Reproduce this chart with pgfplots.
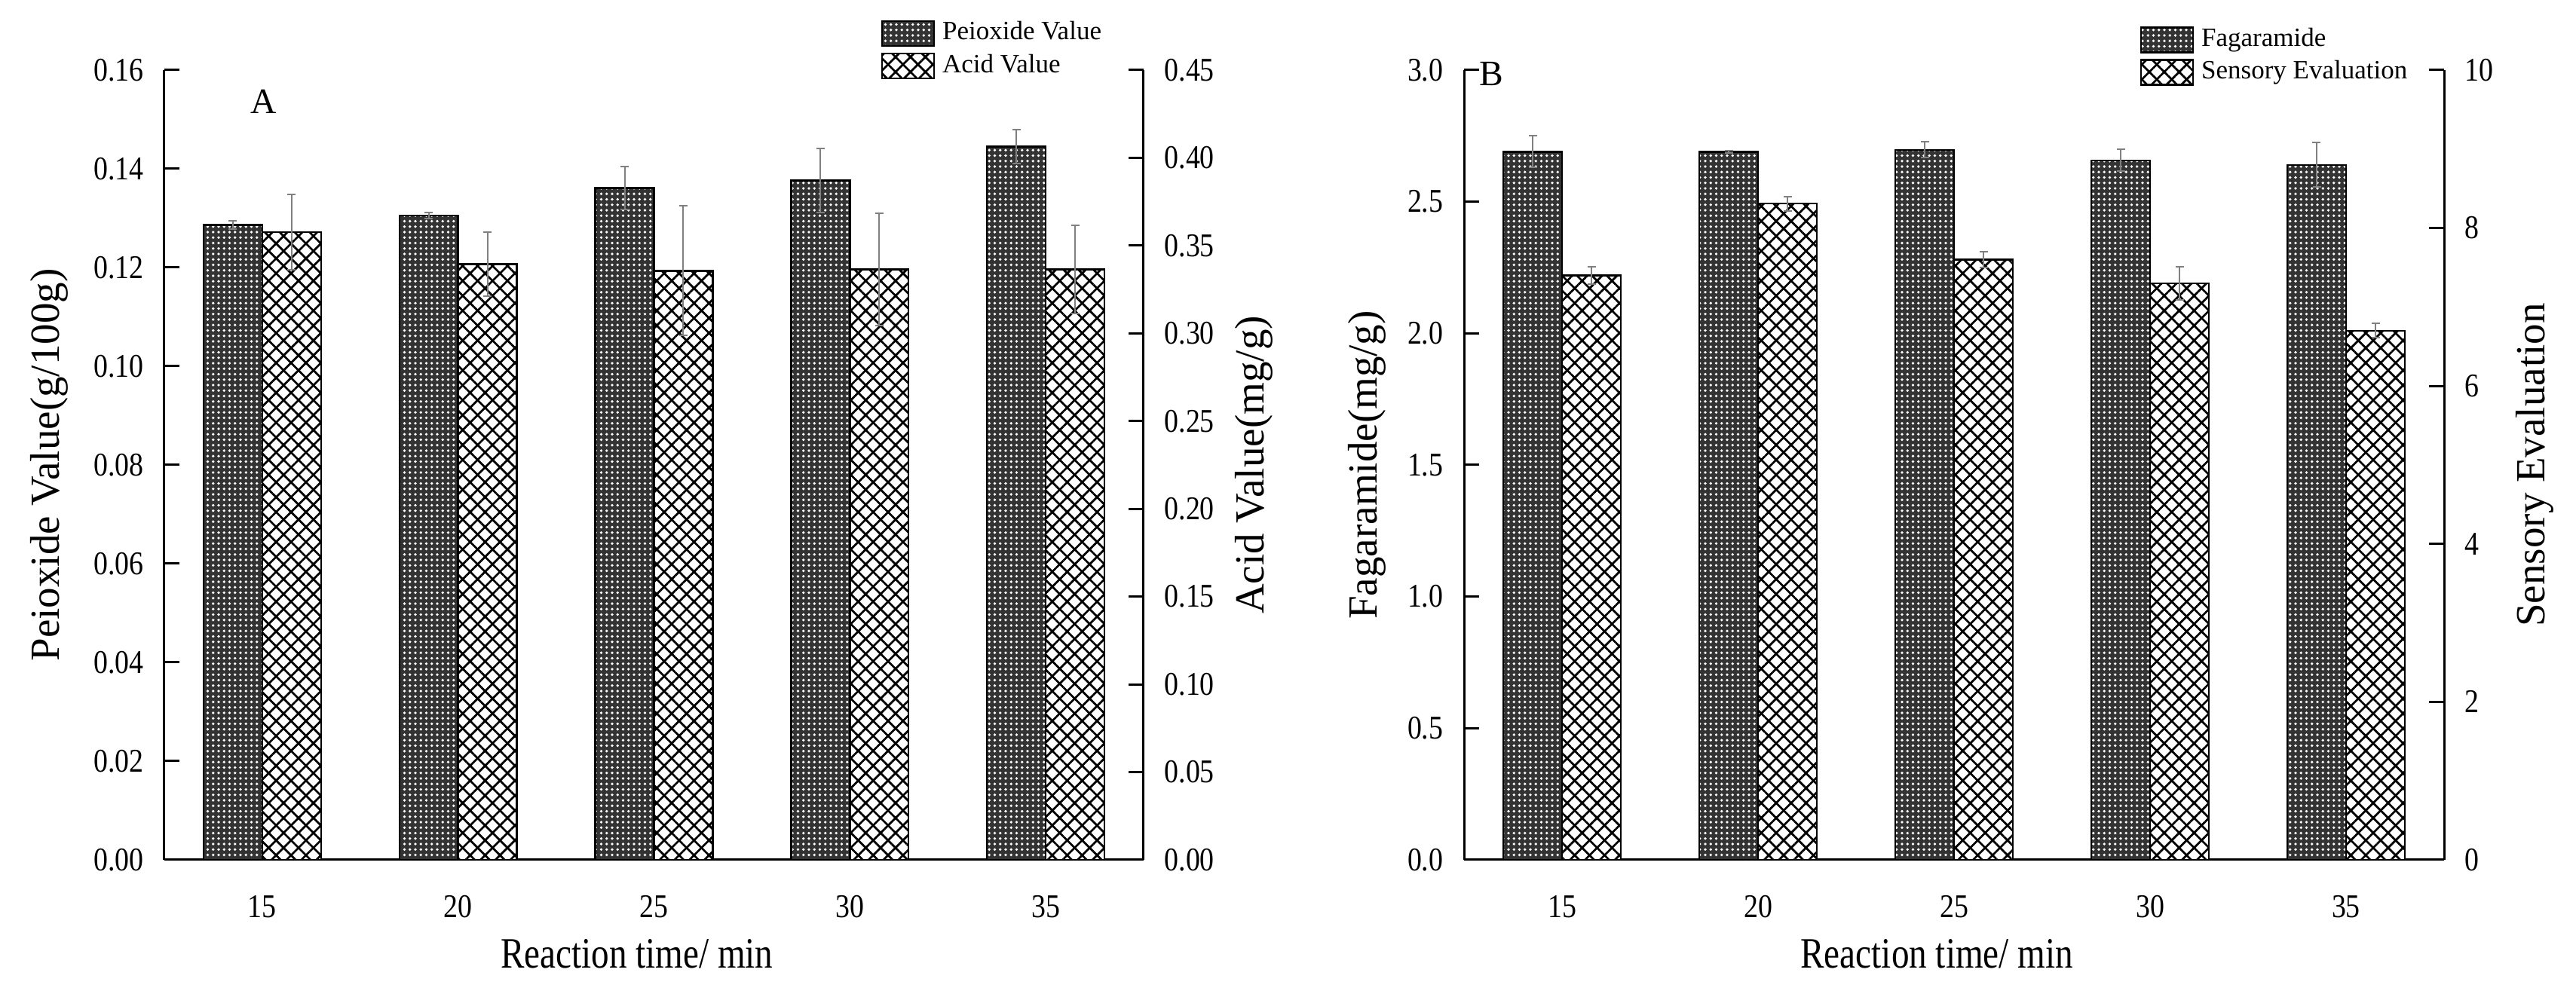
\documentclass[border=0pt]{standalone}
\usepackage{pgfplots}
\pgfplotsset{compat=1.18}
\usepackage{pgfplotstable}
\usepackage{fontspec}
\setmainfont{Liberation Serif}
\newfontfamily\narrowserif{Liberation Serif}[FakeStretch=0.86]
\newfontfamily\narrowerserif{Liberation Serif}[FakeStretch=0.82]
\usetikzlibrary{patterns.meta}

% reaction time index, mean, standard deviation
\pgfplotstableread{
x  per    perr    acid   aerr
0  0.1286 0.0008  0.3577 0.0216
1  0.1305 0.0006  0.3394 0.0183
2  0.1361 0.0043  0.3356 0.0369
3  0.1376 0.0065  0.3365 0.0321
4  0.1445 0.0034  0.3365 0.0250
}\tableA
\pgfplotstableread{
x  fag    ferr    sens   serr
0  2.690  0.060   7.40   0.11
1  2.690  0.004   8.31   0.09
2  2.697  0.030   7.60   0.10
3  2.657  0.042   7.30   0.21
4  2.640  0.085   6.70   0.09
}\tableB

\pgfplotsset{
  darkbar/.style={draw=black, line width=0.5pt, fill=black!80,
    postaction={pattern={Dots[distance=1.45pt,radius=0.38pt]}, pattern color=white}},
  hatchbar/.style={draw=black, line width=0.5pt, fill=white,
    postaction={pattern={Hatch[angle=45,distance=2.8pt,line width=0.55pt]}, pattern color=black}},
  errs/.style={error bars/y dir=both, error bars/y explicit,
    error bars/error bar style={line width=0.4pt, gray},
    error bars/error mark options={rotate=90, mark size=1.1pt, gray, line width=0.4pt}},
  base/.style={scale only axis, clip=false, xmin=-0.5, xmax=4.5, ymin=0, enlargelimits=false,
    tick align=inside, major tick length=4pt,
    axis line style={-, line width=0.6pt},
    tick style={line width=0.6pt, black},
    tick label style={font=\narrowserif\fontsize{8.8}{10}\selectfont},
    /pgf/number format/assume math mode=true,
    label style={font=\fontsize{11}{13}\selectfont},
    legend style={draw=none, fill=none, font=\fontsize{7}{8.4}\selectfont,
      inner sep=0pt, row sep=-1.7pt, cells={anchor=west}}},
  leftside/.style={base, axis x line*=bottom, axis y line*=left,
    xtick={0,1,2,3,4}, xticklabels={15,20,25,30,35}, xtick style={draw=none},
    xticklabel style={yshift=-6pt}, yticklabel style={xshift=-2pt},
    xlabel={Reaction time/ min},
    xlabel style={at={(axis description cs:0.4825,-0.1193)}, anchor=center,
      font=\narrowerserif\fontsize{11.5}{13}\selectfont}},
  rightside/.style={base, axis x line=none, axis y line*=right,
    yticklabel style={xshift=2pt}},
}
\pgfplotsset{legend image code/.code={\draw[#1] (0pt,-3.3pt) rectangle (13.8pt,3.3pt);}}

\begin{document}
\begin{tikzpicture}
\path[use as bounding box] (0,0) rectangle (683.4pt,264.6pt);

% ---- panel A: peroxide value (left) and acid value (right)
\begin{axis}[leftside, at={(43.6pt,36.4pt)}, anchor=south west,
    width=259.8pt, height=209.6pt, ymax=0.16,
    ytick={0,0.02,0.04,0.06,0.08,0.10,0.12,0.14,0.16},
    yticklabel style={/pgf/number format/.cd, fixed, fixed zerofill, precision=2},
    ylabel={Peioxide Value(g/100g)},
    ylabel style={at={(axis description cs:-0.1178,0.5)}, anchor=center}]
  \addplot[ybar, darkbar, bar width=0.3, bar shift=0pt, errs]
    table[x expr=\thisrow{x}-0.15, y=per, y error=perr] {\tableA};
  \node[font=\fontsize{9.5}{11}\selectfont] at (axis description cs:0.101,0.96) {A};
\end{axis}
\begin{axis}[rightside, at={(43.6pt,36.4pt)}, anchor=south west,
    width=259.8pt, height=209.6pt, ymax=0.45,
    ytick={0,0.05,0.10,0.15,0.20,0.25,0.30,0.35,0.40,0.45},
    yticklabel style={/pgf/number format/.cd, fixed, fixed zerofill, precision=2},
    ylabel={Acid Value(mg/g)},
    ylabel style={at={(axis description cs:1.1124,0.5)}, anchor=center},
    legend style={at={(axis description cs:0.731,1.072)}, anchor=north west}]
  \addlegendimage{darkbar}
  \addlegendentry{Peioxide Value}
  \addplot[ybar, hatchbar, bar width=0.3, bar shift=0pt, errs]
    table[x expr=\thisrow{x}+0.15, y=acid, y error=aerr] {\tableA};
  \addlegendentry{Acid Value}
\end{axis}

% ---- panel B: fagaramide (left) and sensory evaluation (right)
\begin{axis}[leftside, at={(388.4pt,36.4pt)}, anchor=south west,
    width=260pt, height=209.6pt, ymax=3,
    ytick={0,0.5,1,1.5,2,2.5,3},
    yticklabel style={/pgf/number format/.cd, fixed, fixed zerofill, precision=1},
    ylabel={Fagaramide(mg/g)},
    ylabel style={at={(axis description cs:-0.0992,0.5)}, anchor=center}]
  \addplot[ybar, darkbar, bar width=0.3, bar shift=0pt, errs]
    table[x expr=\thisrow{x}-0.15, y=fag, y error=ferr] {\tableB};
  \node[font=\fontsize{9.5}{11}\selectfont] at (axis description cs:0.028,0.995) {B};
\end{axis}
\begin{axis}[rightside, at={(388.4pt,36.4pt)}, anchor=south west,
    width=260pt, height=209.6pt, ymax=10,
    ytick={0,2,4,6,8,10},
    ylabel={Sensory Evaluation},
    ylabel style={at={(axis description cs:1.0923,0.5)}, anchor=center},
    legend style={at={(axis description cs:0.689,1.064)}, anchor=north west}]
  \addlegendimage{darkbar}
  \addlegendentry{Fagaramide}
  \addplot[ybar, hatchbar, bar width=0.3, bar shift=0pt, errs]
    table[x expr=\thisrow{x}+0.15, y=sens, y error=serr] {\tableB};
  \addlegendentry{Sensory Evaluation}
\end{axis}
\end{tikzpicture}
\end{document}
